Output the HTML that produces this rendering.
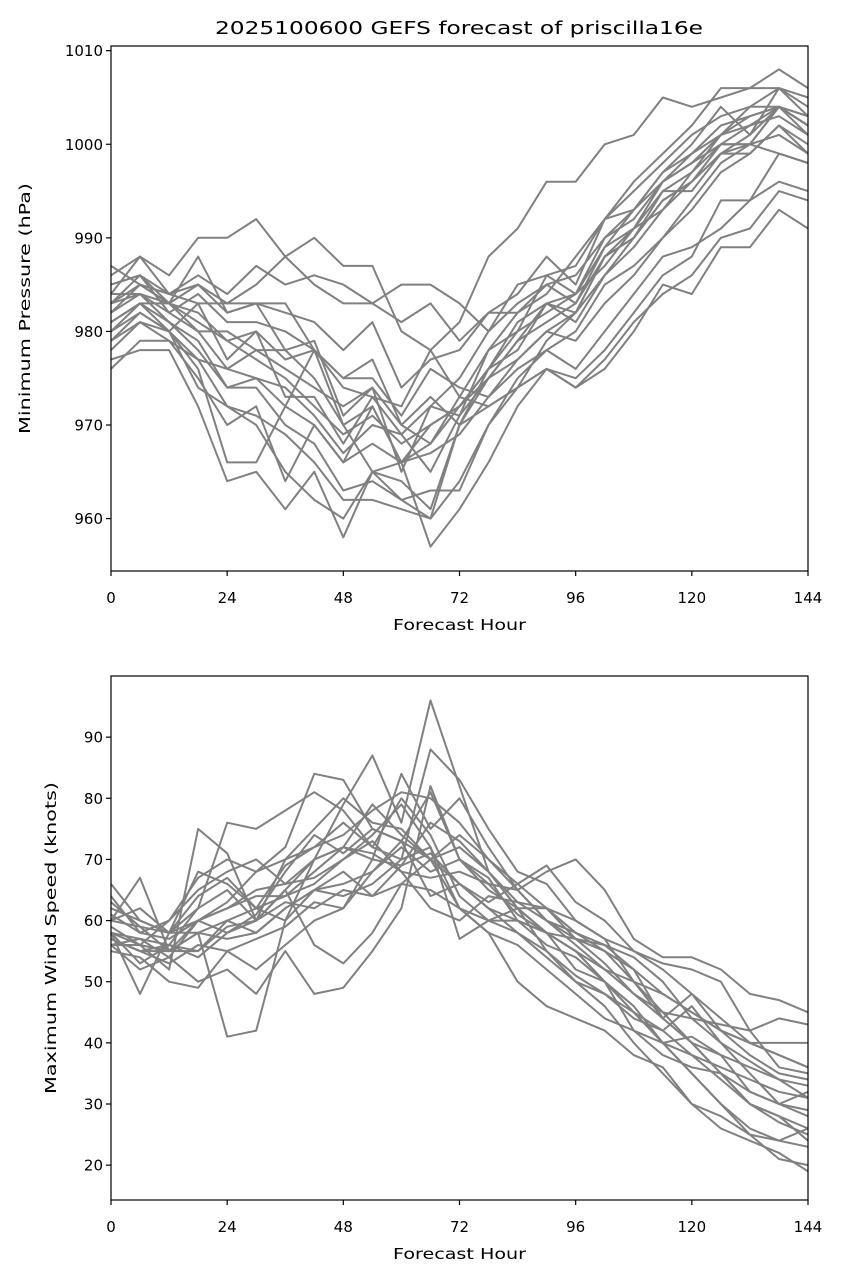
<!DOCTYPE html>
<html><head><meta charset="utf-8"><style>
html,body{margin:0;padding:0;background:#fff;}
svg text{font-family:"DejaVu Sans","Liberation Sans",sans-serif;fill:#000;}
</style></head><body>
<svg id="chart" width="843" height="1279" viewBox="0 0 843 1279" xmlns="http://www.w3.org/2000/svg">
<rect width="843" height="1279" fill="#fff"/>
<text x="459" y="34" font-size="18" text-anchor="middle" textLength="488" lengthAdjust="spacingAndGlyphs">2025100600 GEFS forecast of priscilla16e</text>
<g id="top"></g>
<g id="bot"></g>
</svg>
<script>
const hours=[0,6,12,18,24,30,36,42,48,54,60,66,72,78,84,90,96,102,108,114,120,126,132,138,144];
const xTicks=[0,24,48,72,96,120,144];
const pTicks=[960,970,980,990,1000,1010];
const wTicks=[20,30,40,50,60,70,80,90];
const pressure=[
[982,985,983,988,982,983,978,975,970,972,966,968,973,978,982,984,988,992,995,998,1001,1003,1004,1006,1005],
[984,988,986,990,990,992,988,990,987,987,980,978,981,988,991,996,996,1000,1001,1005,1004,1005,1006,1008,1006],
[980,983,980,976,966,966,972,978,970,965,962,960,970,976,980,986,987,992,993,997,1000,1004,1001,1006,1003],
[977,978,978,972,964,965,961,965,958,965,966,957,961,966,972,976,975,978,982,986,988,994,994,999,998],
[986,988,984,985,983,985,988,985,983,983,981,983,979,982,984,988,985,992,996,999,1002,1006,1006,1006,1004],
[983,984,981,978,974,974,970,968,963,964,962,963,963,970,974,979,982,988,990,994,996,1000,1000,1004,1003],
[979,981,979,977,972,971,969,966,962,962,961,960,964,970,975,978,980,985,987,990,993,997,999,1002,1000],
[985,986,984,986,984,987,985,986,985,983,985,985,983,980,985,986,984,987,991,993,997,1001,1004,1004,1003],
[981,983,983,981,979,977,975,972,969,971,968,970,972,976,981,983,984,990,992,996,999,1001,1003,1004,1002],
[978,981,980,974,972,970,965,962,960,965,964,961,970,975,979,983,982,986,989,993,996,999,999,1002,999],
[983,986,982,980,976,978,976,974,972,974,970,968,972,976,978,983,981,986,990,995,995,999,1000,1004,1002],
[976,979,979,975,970,972,964,970,966,972,966,967,969,973,976,978,976,980,984,988,989,991,994,996,995],
[982,984,983,982,979,980,973,973,968,973,969,972,971,975,977,980,979,983,986,990,994,998,1000,999,998],
[987,985,984,983,983,983,983,978,975,977,970,973,970,972,974,976,974,977,981,984,986,990,991,995,994],
[980,982,980,983,977,980,977,978,974,973,972,978,973,972,974,976,974,976,980,985,984,989,989,993,991],
[984,984,982,984,981,981,980,978,975,975,971,976,974,973,977,980,982,988,991,995,997,1000,1002,1003,1001],
[981,983,981,979,974,975,972,970,966,968,966,970,972,975,979,981,983,989,993,996,998,1001,1002,1004,1002],
[985,986,983,985,982,983,982,981,978,981,974,977,978,982,982,985,986,990,993,997,999,1002,1003,1004,1002],
[979,982,980,977,976,975,974,971,967,970,969,965,971,978,980,982,984,989,991,996,998,1000,1000,1001,999],
[983,985,983,980,980,978,978,979,971,974,965,972,975,980,983,985,983,988,990,994,996,999,1001,1004,1001]];
const wind=[
[60,67,55,60,63,68,70,75,80,76,75,70,72,68,63,62,58,55,50,45,40,35,30,27,25],
[58,56,52,75,71,60,65,70,79,87,76,96,82,68,62,58,55,50,45,42,38,34,30,28,26],
[62,60,58,58,41,42,60,70,72,70,84,75,80,72,65,60,56,52,48,44,40,35,32,30,29],
[57,55,56,62,76,75,78,81,78,72,70,88,83,75,68,66,60,57,55,52,48,44,40,38,36],
[56,52,54,50,52,48,55,48,49,55,62,82,70,65,62,58,55,50,45,40,35,30,25,21,20],
[64,58,60,65,68,70,66,70,72,71,68,67,68,66,65,68,70,65,57,54,54,52,48,47,45],
[58,48,58,68,66,62,64,66,70,74,79,72,57,60,58,55,50,46,40,35,30,26,24,22,19],
[60,59,55,58,60,58,62,65,64,66,70,72,62,58,56,52,48,44,42,40,38,36,34,32,31],
[56,57,56,55,60,62,60,65,66,68,73,70,66,62,60,58,55,52,50,44,40,38,36,34,33],
[66,60,58,62,65,60,70,72,74,78,81,80,76,70,66,62,60,57,50,48,45,42,40,38,36],
[55,54,50,49,55,52,56,60,62,70,69,76,73,68,62,55,51,48,44,42,46,40,35,30,28],
[59,56,60,67,70,68,72,84,83,75,73,81,70,67,60,56,54,50,46,40,41,38,32,30,32],
[57,55,53,56,55,57,59,63,62,68,72,68,70,66,61,58,52,50,42,38,36,35,30,28,24],
[61,58,57,60,62,64,64,68,72,79,74,70,74,70,65,60,58,56,52,44,48,42,38,35,34],
[58,53,56,54,58,60,65,56,53,58,66,70,62,58,50,46,44,42,38,36,30,28,25,24,23],
[63,59,58,64,67,62,69,72,76,72,80,74,64,60,62,62,57,53,48,45,44,40,37,34,31],
[56,56,55,58,57,58,62,65,68,64,69,71,66,62,58,54,50,48,45,40,35,30,26,24,26],
[60,62,58,60,62,65,66,67,70,73,68,62,60,64,63,60,57,55,52,48,45,42,40,40,40],
[57,55,55,55,59,60,63,62,65,64,66,65,62,60,60,58,57,56,54,50,44,43,42,36,35],
[58,57,54,60,58,61,68,74,71,75,73,64,66,63,66,69,63,60,55,53,52,50,42,44,43]];
const NS='http://www.w3.org/2000/svg';
function mk(tag,attrs,parent,txt){const e=document.createElementNS(NS,tag);for(const k in attrs)e.setAttribute(k,attrs[k]);if(txt!==undefined)e.textContent=txt;parent.appendChild(e);return e;}
function panel(g,top,bottom,ymin,ymax,yTicks,series,ylabel,ylabX,ylabLen){
  const L=111,R=808;
  const xs=h=>L+(h/144)*(R-L);
  const ys=v=>bottom-(v-ymin)/(ymax-ymin)*(bottom-top);
  series.forEach((s,i)=>{
    const d=s.map((v,j)=>(j?'L':'M')+xs(hours[j]).toFixed(1)+','+ys(v).toFixed(1)).join('');
    const p=mk('path',{d:d,fill:'none',stroke:'#808080','stroke-width':2,'stroke-linejoin':'round'},g);
    
    
  });
  const fr=mk('rect',{x:L,y:top,width:R-L,height:bottom-top,fill:'none',stroke:'#000','stroke-width':1.2},g);
  
  
  xTicks.forEach(t=>{
    const x=xs(t);
    mk('line',{x1:x,x2:x,y1:bottom,y2:bottom+5,stroke:'#000','stroke-width':1.2},g);
    const tx=mk('text',{x:x,y:bottom+32,'font-size':15,'text-anchor':'middle'},g,String(t));
    
    
  });
  yTicks.forEach(t=>{
    const y=ys(t);
    mk('line',{x1:L-5,x2:L,y1:y,y2:y,stroke:'#000','stroke-width':1.2},g);
    const tx=mk('text',{x:L-8,y:y+5.5,'font-size':15,'text-anchor':'end'},g,String(t));
    
    
  });
  const xl=mk('text',{x:(L+R)/2,y:bottom+59,'font-size':15,'text-anchor':'middle',textLength:133,lengthAdjust:'spacingAndGlyphs'},g,'Forecast Hour');
  
  
  const cy=(top+bottom)/2;
  const yl=mk('text',{x:ylabX,y:cy,'font-size':15,'text-anchor':'middle',textLength:ylabLen,lengthAdjust:'spacingAndGlyphs',transform:'rotate(-90 '+ylabX+' '+cy+')'},g,ylabel);
  
  
}
panel(document.getElementById('top'),46,571,954.4,1010.5,pTicks,pressure,'Minimum Pressure (hPa)',30,251);
panel(document.getElementById('bot'),676,1200,14.3,100,wTicks,wind,'Maximum Wind Speed (knots)',56,312);
</script>
</body></html>
